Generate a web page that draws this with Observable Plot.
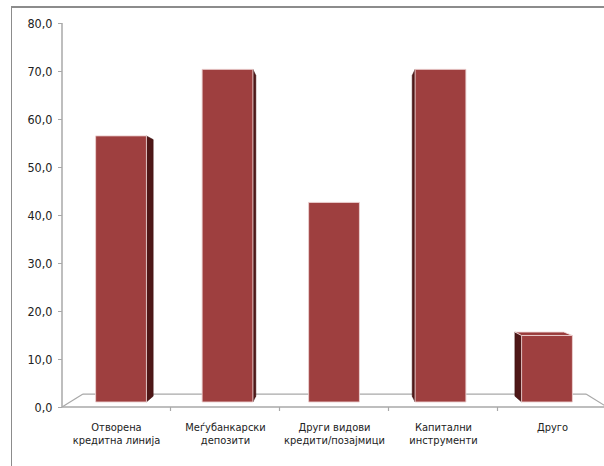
<!DOCTYPE html>
<html><head><meta charset="utf-8">
<script src="https://cdn.jsdelivr.net/npm/d3@7"></script>
<script src="https://cdn.jsdelivr.net/npm/@observablehq/plot@0.6"></script>
<style>
body{margin:0;background:#fff;}
#wrap{position:relative;width:604px;height:466px;overflow:hidden;}
#frame{position:absolute;left:11px;top:6px;width:700px;height:600px;border-top:2px solid #8c8c8c;border-left:1.5px solid #8c8c8c;}
#chart{position:absolute;left:0;top:0;}
</style></head><body>
<div id="wrap"><div id="frame"></div><div id="chart"></div></div>
<script>
const categories = ["Отворена\nкредитна линија", "Меѓубанкарски\nдепозити", "Други видови\nкредити/позајмици", "Капитални\nинструменти", "Друго"];
const values = [56, 70, 42, 70, 14];
const yTicks = [0, 10, 20, 30, 40, 50, 60, 70, 80];
const data = categories.map((c, i) => ({category: c, value: values[i]}));

const SVGNS = "http://www.w3.org/2000/svg";
function poly(doc, g, pts, fill, stroke, sw) {
  const p = doc.createElementNS(SVGNS, "polygon");
  p.setAttribute("points", pts.map(q => q.join(",")).join(" "));
  p.setAttribute("fill", fill);
  if (stroke) { p.setAttribute("stroke", stroke); p.setAttribute("stroke-width", sw || 1); p.setAttribute("stroke-linejoin", "round"); }
  else p.setAttribute("stroke", "none");
  g.appendChild(p);
}
function line(doc, g, a, b, stroke, sw) {
  const l = doc.createElementNS(SVGNS, "line");
  l.setAttribute("x1", a[0]); l.setAttribute("y1", a[1]);
  l.setAttribute("x2", b[0]); l.setAttribute("y2", b[1]);
  l.setAttribute("stroke", stroke); l.setAttribute("stroke-width", sw);
  g.appendChild(l);
}

// floor, axis lines, category separators
function floorRender(index, scales, channels, dims, context) {
  const doc = context.document;
  const g = doc.createElementNS(SVGNS, "g");
  const {x, y} = scales;
  const [r0, r1] = x.range();
  const base = y(0);
  const V = [(r0 + r1) / 2, y(35)];
  const back = ([px, py]) => [V[0] + (px - V[0]) * 0.923, V[1] + (py - V[1]) * 0.923];
  const fl = [[r0, base], [r1, base]];
  const bl = fl.map(back);
  const col = "#a8a8a8";
  line(doc, g, fl[0], bl[0], col, 1.2);
  line(doc, g, bl[0], bl[1], col, 1.2);
  line(doc, g, bl[1], fl[1], col, 1.2);
  line(doc, g, fl[0], fl[1], col, 1.5);
  line(doc, g, [r0, y(0)], [r0, y(80)], col, 1.5);
  const step = x.step(), bw = x.bandwidth();
  categories.slice(1).forEach(c => {
    const xs = x(c) + bw / 2 - step / 2;
    line(doc, g, [xs, base], [xs, base + 4], col, 1.2);
  });
  return g;
}

function barsRender(index, scales, channels, dims, context) {
  const doc = context.document;
  const g = doc.createElementNS(SVGNS, "g");
  const {x, y} = scales;
  const bw = x.bandwidth();
  const [r0, r1] = x.range();
  const base = y(0);
  const V = [(r0 + r1) / 2, y(35)];
  const toBar = ([px, py]) => [V[0] + (px - V[0]) * 0.977, base - 5 - (base - py) * 0.99];
  const toBack = ([px, py]) => [V[0] + (px - V[0]) * 0.964, V[1] + (py - V[1]) * 0.964];
  for (const i of index) {
    const d = data[i];
    const x0 = x(d.category), x1 = x0 + bw, yt = y(d.value);
    const f = [[x0, yt], [x1, yt], [x1, base], [x0, base]].map(toBar);
    const b = f.map(toBack);
    if (f[1][0] < V[0]) poly(doc, g, [f[1], b[1], b[2], f[2]], "#4e1717", "#3a1010", 0.5);
    if (f[0][0] > V[0]) poly(doc, g, [f[0], b[0], b[3], f[3]], "#4e1717", "#3a1010", 0.5);
    if (f[0][1] > V[1]) poly(doc, g, [f[0], f[1], b[1], b[0]], "#9a3b3b", "#f3e2e2", 0.9);
    poly(doc, g, f, "#9e3f3f", "#ecd0d0", 0.9);
  }
  return g;
}

const chart = Plot.plot({
  width: 604,
  height: 466,
  marginLeft: 62,
  marginRight: 0,
  marginTop: 23,
  marginBottom: 59,
  style: {fontFamily: "'DejaVu Sans Condensed', 'DejaVu Sans', sans-serif", fontSize: "11.5px", color: "#222", background: "transparent", overflow: "visible"},
  x: {domain: categories, range: [62, 607], paddingInner: 0.52, paddingOuter: 0.26},
  y: {domain: [0, 80], range: [407, 23]},
  marks: [
    Plot.barY(data, {x: "category", y: "value", render: floorRender}),
    Plot.barY(data, {x: "category", y: "value", render: barsRender}),
    Plot.axisY({ticks: yTicks, tickFormat: d => d.toFixed(1).replace(".", ","), tickSize: 4, tickPadding: 6, stroke: "#a8a8a8", fontSize: 12.5, label: null}),
    Plot.axisX({tickSize: 0, tickPadding: 14, lineHeight: 1.17, fontSize: 11, label: null})
  ]
});
document.getElementById("chart").appendChild(chart);
</script>
</body></html>
